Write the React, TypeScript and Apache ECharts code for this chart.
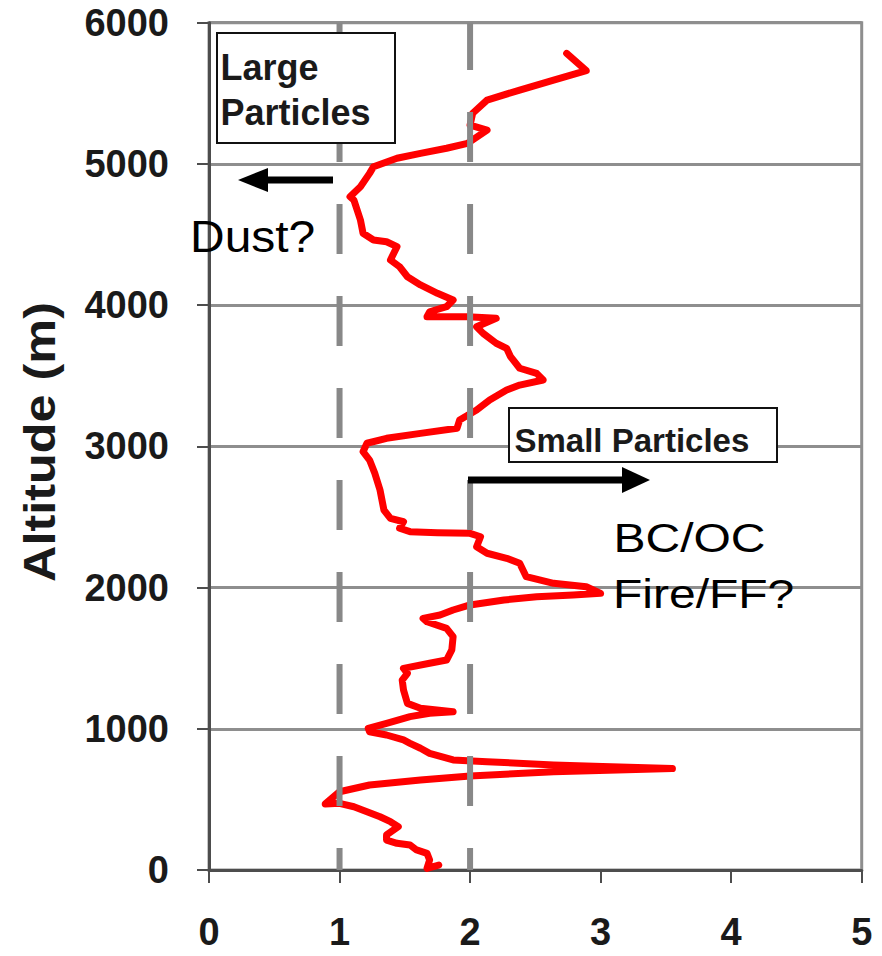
import React, { useEffect, useRef } from "react";
import * as echarts from "echarts";

// Vertical profile: ratio value (x) vs altitude in metres (y), bottom to top
const profileRatio = [
  1.76, 1.67, 1.69, 1.67, 1.59, 1.54, 1.44, 1.36, 1.36, 1.45, 1.39, 1.31, 1.21, 1.11, 1.0, 0.89,
  1.0, 1.23, 1.62, 2.0, 2.64, 3.55, 2.64, 2.13, 1.87, 1.69, 1.62, 1.54, 1.49, 1.36, 1.23, 1.22,
  1.36, 1.54, 1.69, 1.87, 1.62, 1.52, 1.49, 1.48, 1.52, 1.49, 1.69, 1.82, 1.86, 1.87, 1.82, 1.67,
  1.64, 1.77, 1.87, 2.0, 2.26, 2.51, 2.79, 3.0, 2.89, 2.64, 2.43, 2.38, 2.28, 2.13, 2.05, 2.08,
  2.0, 1.75, 1.54, 1.46, 1.49, 1.39, 1.34, 1.31, 1.27, 1.23, 1.18, 1.21, 1.36, 1.62, 1.9, 1.92,
  2.05, 2.15, 2.28, 2.38, 2.56, 2.51, 2.38, 2.31, 2.28, 2.2, 2.1, 2.05, 2.2, 1.98, 1.67, 1.69,
  1.82, 1.87, 1.75, 1.62, 1.52, 1.46, 1.39, 1.44, 1.36, 1.26, 1.18, 1.16, 1.11, 1.08, 1.16, 1.23,
  1.26, 1.44, 1.62, 1.82, 1.98, 2.13, 2.0, 2.02, 2.13, 2.38, 2.64, 2.89, 2.74,
];
const profileAltitude = [
  35, 12, 71, 118, 142, 177, 189, 212, 248, 307, 342, 377, 413, 448, 472, 468,
  554, 602, 637, 666, 696, 718, 743, 767, 779, 826, 862, 897, 921, 956, 979, 1003,
  1039, 1086, 1110, 1121, 1145, 1180, 1275, 1345, 1393, 1428, 1464, 1487, 1558, 1652, 1711, 1758,
  1782, 1806, 1841, 1877, 1912, 1935, 1947, 1959, 2006, 2030, 2077, 2172, 2207, 2243, 2289, 2360,
  2384, 2389, 2396, 2420, 2466, 2490, 2549, 2691, 2809, 2903, 2962, 3022, 3057, 3092, 3128, 3187,
  3257, 3328, 3399, 3434, 3470, 3517, 3553, 3635, 3694, 3730, 3800, 3847, 3907, 3918, 3918, 3953,
  3989, 4036, 4084, 4143, 4201, 4272, 4320, 4414, 4449, 4461, 4509, 4603, 4744, 4768, 4839, 4933,
  4980, 5040, 5075, 5111, 5146, 5240, 5275, 5359, 5452, 5523, 5594, 5660, 5783,
];

// Dashed reference lines
const referenceLines = [1, 2];

// Axes
const xMin = 0;
const xMax = 5;
const xStep = 1;
const yMin = 0;
const yMax = 6000;
const yStep = 1000;

// Annotation texts
const largeLabel = ["Large", "Particles"];
const smallLabel = "Small Particles";
const dustLabel = "Dust?";
const fireLabel = ["BC/OC", "Fire/FF?"];
const yTitle = "Altitude (m)";

const FONT = '"Liberation Sans", Arial, Helvetica, sans-serif';

export default function App() {
  const ref = useRef<HTMLDivElement>(null);

  useEffect(() => {
    if (!ref.current) return;
    const chart = echarts.init(ref.current, null, { renderer: "svg" });

    const profileData = profileRatio.map((v, i) => [v, profileAltitude[i]]);

    const refSeries = referenceLines.map((v) => ({
      type: "line",
      data: [
        [v, yMin],
        [v, yMax],
      ],
      symbol: "none",
      silent: true,
      z: 3,
      lineStyle: { color: "#888888", width: 6, type: [50, 42], dashOffset: 28 },
    }));

    const option: any = {
      animation: false,
      backgroundColor: "#ffffff",
      grid: {
        left: 209,
        right: 20.3,
        top: 22.7,
        bottom: 86,
        show: true,
        borderColor: "#8e8e8e",
        borderWidth: 3,
        backgroundColor: "transparent",
      },
      xAxis: {
        type: "value",
        min: xMin,
        max: xMax,
        interval: xStep,
        axisLine: { show: true, onZero: false, lineStyle: { color: "#4d4d4d", width: 3 } },
        axisTick: { show: true, length: 13, lineStyle: { color: "#4d4d4d", width: 2 } },
        axisLabel: {
          margin: 43,
          fontSize: 38,
          fontWeight: "bold",
          fontFamily: FONT,
          color: "#1a1a1a",
          formatter: (v: number) => String(v),
        },
        splitLine: { show: false },
      },
      yAxis: {
        type: "value",
        min: yMin,
        max: yMax,
        interval: yStep,
        axisLine: { show: true, onZero: false, lineStyle: { color: "#4d4d4d", width: 3 } },
        axisTick: { show: true, length: 12, lineStyle: { color: "#4d4d4d", width: 2 } },
        axisLabel: {
          margin: 40,
          padding: [9, 0, 0, 0],
          fontSize: 38,
          fontWeight: "bold",
          fontFamily: FONT,
          color: "#1a1a1a",
          formatter: (v: number) => String(v),
        },
        splitLine: { show: true, lineStyle: { color: "#8e8e8e", width: 3 } },
      },
      series: [
        {
          type: "line",
          data: profileData,
          symbol: "none",
          z: 2,
          lineStyle: { color: "#ff0000", width: 7, join: "round", cap: "round" },
        },
        ...refSeries,
      ],
      graphic: [
        {
          type: "rect",
          z: 100,
          shape: { x: 217, y: 33, width: 178, height: 110 },
          style: { fill: "#ffffff", stroke: "#111111", lineWidth: 2 },
        },
        {
          type: "text",
          z: 101,
          x: 220.5,
          y: 67.5,
          style: {
            text: largeLabel[0],
            font: `bold 36px ${FONT}`,
            fill: "#1a1a1a",
            align: "left",
            verticalAlign: "middle",
          },
        },
        {
          type: "text",
          z: 101,
          x: 220.5,
          y: 112.5,
          style: {
            text: largeLabel[1],
            font: `bold 36px ${FONT}`,
            fill: "#1a1a1a",
            align: "left",
            verticalAlign: "middle",
          },
        },
        {
          type: "line",
          z: 100,
          shape: { x1: 333, y1: 180, x2: 262, y2: 180 },
          style: { stroke: "#000000", lineWidth: 7 },
        },
        {
          type: "polygon",
          z: 100,
          shape: { points: [[238, 180], [268, 168], [268, 192]] },
          style: { fill: "#000000" },
        },
        {
          type: "text",
          z: 101,
          x: 190,
          y: 237,
          scaleX: 1.09,
          style: {
            text: dustLabel,
            font: `44px ${FONT}`,
            fill: "#000000",
            align: "left",
            verticalAlign: "middle",
          },
        },
        {
          type: "rect",
          z: 100,
          shape: { x: 509, y: 408, width: 268, height: 54 },
          style: { fill: "#ffffff", stroke: "#111111", lineWidth: 2 },
        },
        {
          type: "text",
          z: 101,
          x: 514.5,
          y: 440.6,
          style: {
            text: smallLabel,
            font: `bold 33px ${FONT}`,
            fill: "#1a1a1a",
            align: "left",
            verticalAlign: "middle",
          },
        },
        {
          type: "line",
          z: 100,
          shape: { x1: 468, y1: 480, x2: 626, y2: 480 },
          style: { stroke: "#000000", lineWidth: 7 },
        },
        {
          type: "polygon",
          z: 100,
          shape: { points: [[650, 480], [622, 467], [622, 493]] },
          style: { fill: "#000000" },
        },
        {
          type: "text",
          z: 101,
          x: 613.5,
          y: 538,
          scaleX: 1.2,
          style: {
            text: fireLabel[0],
            font: `40px ${FONT}`,
            fill: "#000000",
            align: "left",
            verticalAlign: "middle",
          },
        },
        {
          type: "text",
          z: 101,
          x: 613,
          y: 594,
          scaleX: 1.2,
          style: {
            text: fireLabel[1],
            font: `40px ${FONT}`,
            fill: "#000000",
            align: "left",
            verticalAlign: "middle",
          },
        },
        {
          type: "text",
          z: 101,
          x: 39,
          y: 442,
          rotation: Math.PI / 2,
          scaleX: 1.12,
          style: {
            text: yTitle,
            font: `bold 45px ${FONT}`,
            fill: "#1a1a1a",
            align: "center",
            verticalAlign: "middle",
          },
        },
      ],
    };

    chart.setOption(option);
    return () => chart.dispose();
  }, []);

  return (
    <div
      ref={ref}
      style={{ position: "absolute", left: 0, top: 0, width: 882, height: 956, background: "#ffffff" }}
    />
  );
}
